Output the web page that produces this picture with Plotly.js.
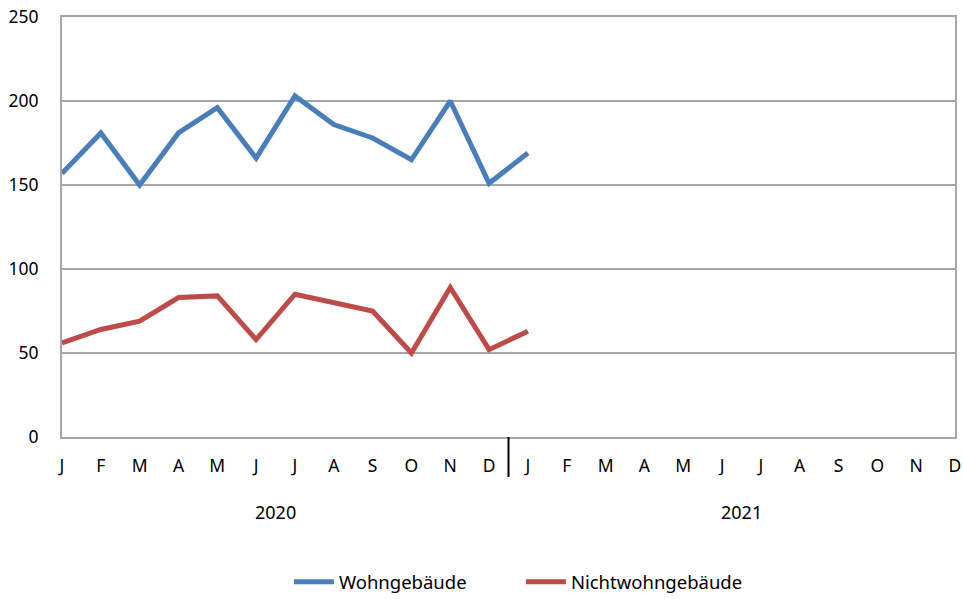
<!DOCTYPE html>
<html>
<head>
<meta charset="utf-8">
<script src="https://cdn.plot.ly/plotly-3.0.1.min.js"></script>
<style>html,body{margin:0;padding:0;background:#fff;}#chart{width:963px;height:599px;}</style>
</head>
<body>
<div id="chart"></div>
<script>
const monthLabels = ["J","F","M","A","M","J","J","A","S","O","N","D","J","F","M","A","M","J","J","A","S","O","N","D"];
const years = ["2020","2021"];
const wohngebaeude = [157,181,150,181,196,166,203,186,178,165,200,151,169];
const nichtwohngebaeude = [56,64,69,83,84,58,85,80,75,50,89,52,63];
const yTicks = [0,50,100,150,200,250];

const idx = monthLabels.map((_, i) => i);
const font = "'Noto Sans', 'Open Sans', sans-serif";

const traces = [
  {x: idx.slice(0, wohngebaeude.length), y: wohngebaeude, name: "Wohngebäude", mode: "lines",
   line: {color: "#4a7ebb", width: 5}},
  {x: idx.slice(0, nichtwohngebaeude.length), y: nichtwohngebaeude, name: "Nichtwohngebäude", mode: "lines",
   line: {color: "#be4b48", width: 5}}
];

const layout = {
  width: 963, height: 599,
  margin: {l: 62, r: 8, t: 17, b: 162, autoexpand: false},
  paper_bgcolor: "#fff", plot_bgcolor: "#fff",
  font: {family: font, size: 17.5, color: "#000"},
  showlegend: true,
  legend: {orientation: "h", xref: "container", yref: "container", x: 0.3, xanchor: "left",
           y: 0.028, yanchor: "middle", font: {family: font, size: 18.5}, itemwidth: 40,
           entrywidth: 177},
  xaxis: {range: [0, monthLabels.length - 1], tickmode: "array", tickvals: idx, ticktext: monthLabels,
          showgrid: false, zeroline: false, showline: true, linecolor: "#a6a6a6", linewidth: 2,
          mirror: true, ticks: "", ticklabelstandoff: 12, fixedrange: true},
  yaxis: {range: [0, 250], tickmode: "array", tickvals: yTicks, showgrid: true, gridcolor: "#a6a6a6",
          gridwidth: 2, zeroline: false, showline: true, linecolor: "#a6a6a6", linewidth: 2, mirror: true,
          ticks: "", ticklabelstandoff: 18, fixedrange: true},
  shapes: [
    {type: "line", xref: "x", yref: "paper", x0: 11.5, x1: 11.5, y0: 0, y1: -0.095,
     line: {color: "#000", width: 2}}
  ],
  annotations: [
    {xref: "x", yref: "paper", x: 5.5, y: -0.179, text: years[0], showarrow: false,
     xanchor: "center", yanchor: "middle", font: {family: font, size: 18}},
    {xref: "x", yref: "paper", x: 17.5, y: -0.179, text: years[1], showarrow: false,
     xanchor: "center", yanchor: "middle", font: {family: font, size: 18}}
  ]
};

Plotly.newPlot("chart", traces, layout, {displayModeBar: false, staticPlot: true});
</script>
</body>
</html>
